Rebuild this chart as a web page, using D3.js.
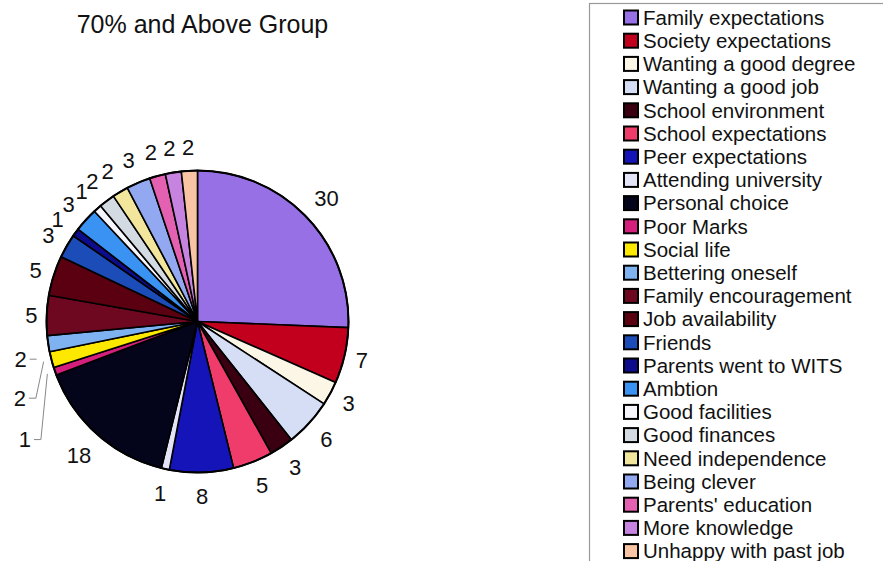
<!DOCTYPE html>
<html>
<head>
<meta charset="utf-8">
<script src="https://cdn.jsdelivr.net/npm/d3@7"></script>
<style>
  html, body { margin: 0; padding: 0; background: #fff; }
  svg { display: block; font-family: "Liberation Sans", Arial, sans-serif; }
</style>
</head>
<body>
<svg id="chart" width="883" height="561"></svg>
<script>
// Reasons given by the "70% and Above" group
const categories = [
  "Family expectations", "Society expectations", "Wanting a good degree",
  "Wanting a good job", "School environment", "School expectations",
  "Peer expectations", "Attending university", "Personal choice",
  "Poor Marks", "Social life", "Bettering oneself", "Family encouragement",
  "Job availability", "Friends", "Parents went to WITS", "Ambtion",
  "Good facilities", "Good finances", "Need independence", "Being clever",
  "Parents' education", "More knowledge", "Unhappy with past job"
];
const values = [30, 7, 3, 6, 3, 5, 8, 1, 18, 1, 2, 2, 5, 5, 3, 1, 3, 1, 2, 2, 3, 2, 2, 2];
const colors = [
  "#9670e4", "#c2001e", "#fbf6e6", "#d6def6", "#3a0012", "#f03c6a",
  "#1414b8", "#e4e4f8", "#04041a", "#d4207c", "#fde800", "#7eb2f0",
  "#6e0820", "#5a0010", "#1c4cb8", "#0c0c8c", "#3a92f2", "#f6f6fc",
  "#d4dae2", "#f2e69c", "#92a8f0", "#e460b0", "#c684e0", "#f8c4a4"
];
const title = "70% and Above Group";

const data = categories.map((c, i) => ({ name: c, value: values[i], color: colors[i] }));

const svg = d3.select("#chart");
const cx = 197.5, cy = 321.5, R = 151;

// Title
svg.append("text")
  .attr("x", 202.5).attr("y", 33)
  .attr("text-anchor", "middle")
  .attr("font-size", 25)
  .attr("fill", "#111")
  .text(title);

// Pie, clockwise from twelve o'clock in category order
const pie = d3.pie().sort(null).value(d => d.value);
const arcs = pie(data);
const arc = d3.arc().innerRadius(0).outerRadius(R);

const g = svg.append("g").attr("transform", `translate(${cx},${cy})`);
g.selectAll("path.slice")
  .data(arcs)
  .join("path")
  .attr("class", "slice")
  .attr("d", arc)
  .attr("fill", d => d.data.color)
  .attr("stroke", "#000")
  .attr("stroke-width", 1.6)
  .attr("stroke-linejoin", "round");

g.append("circle").attr("r", R).attr("fill", "none").attr("stroke", "#000").attr("stroke-width", 2);

// Value labels: the label box sits just outside the rim along the slice's mid angle
const labelFont = 22;
const gap = 8.5, halfH = 15;
// labels pushed apart where neighbours crowd, with leader lines back to the slice
const nudges = {
  "Bettering oneself": { dx: -11, dy: 13, leader: "stub" },
  "Social life": { dx: -14, dy: 34, leader: "elbow" },
  "Poor Marks": { dx: -12, dy: 62, leader: "elbow" }
};

const lab = svg.append("g").attr("font-size", labelFont).attr("fill", "#111");
arcs.forEach(d => {
  const mid = (d.startAngle + d.endAngle) / 2;
  const s = Math.sin(mid), c = Math.cos(mid);
  const txt = String(d.data.value);
  const w = txt.length * labelFont * 0.556;
  const D = R + gap + (w / 2) * Math.abs(s) + halfH * Math.abs(c);
  let x = cx + D * s, y = cy - D * c;
  const n = nudges[d.data.name];
  if (n) {
    x += n.dx; y += n.dy;
    const x0 = x + w / 2 + 3, x1 = x0 + 7;
    const pts = [[x0, y], [x1, y]];
    if (n.leader === "elbow") {
      const r2 = R + 8;
      pts.push([cx + r2 * s, cy - r2 * c]);
    }
    svg.append("path")
      .attr("d", d3.line()(pts))
      .attr("fill", "none")
      .attr("stroke", "#888")
      .attr("stroke-width", 1);
  }
  lab.append("text")
    .attr("x", x).attr("y", y)
    .attr("text-anchor", "middle")
    .attr("dy", "0.36em")
    .text(txt);
});

// Legend
const legend = svg.append("g");
legend.append("rect")
  .attr("x", 589.5).attr("y", 3.5)
  .attr("width", 340).attr("height", 620)
  .attr("fill", "#fff")
  .attr("stroke", "#999")
  .attr("stroke-width", 1.2);

const rowY = d3.scaleLinear().domain([0, 1]).range([17.5, 17.5 + 23.2]);
const rows = legend.selectAll("g.row")
  .data(data)
  .join("g")
  .attr("class", "row")
  .attr("transform", (d, i) => `translate(0,${rowY(i)})`);

rows.append("rect")
  .attr("x", 624).attr("y", -7)
  .attr("width", 14).attr("height", 14)
  .attr("fill", d => d.color)
  .attr("stroke", "#000")
  .attr("stroke-width", 2);

rows.append("text")
  .attr("x", 643).attr("y", 0)
  .attr("dy", "0.36em")
  .attr("font-size", 20.5)
  .attr("fill", "#111")
  .text(d => d.name);
</script>
</body>
</html>
